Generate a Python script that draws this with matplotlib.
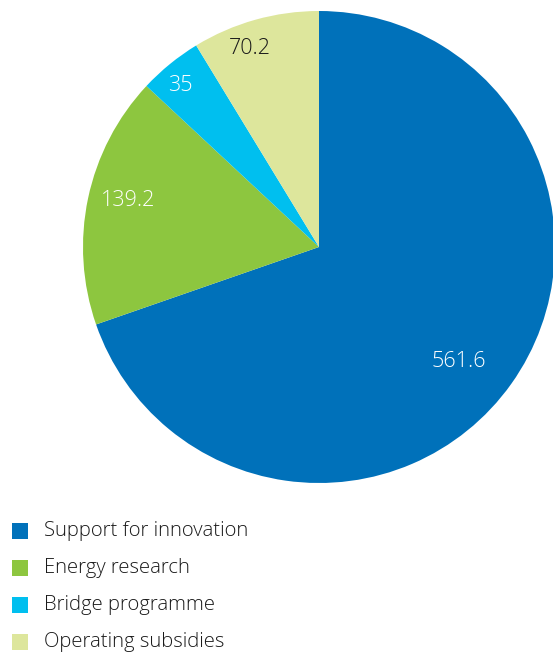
import numpy as np
import matplotlib
matplotlib.use("Agg")
import matplotlib.pyplot as plt
from matplotlib.patches import Rectangle

plt.rcParams["font.family"] = ["Open Sans", "DejaVu Sans"]

categories = ["Support for innovation", "Energy research", "Bridge programme", "Operating subsidies"]
values = [561.6, 139.2, 35, 70.2]
value_labels = ["561.6", "139.2", "35", "70.2"]
colors = ["#0071BA", "#8DC63F", "#00BFEF", "#DDE69C"]
label_colors = ["white", "white", "white", "#1a1a1a"]
label_radius = [0.765, 0.833, 0.90, 0.889]
label_shift_deg = [-3.8, -1.9, 1.4, 3.5]

W, H = 553, 655
fig = plt.figure(figsize=(W / 100, H / 100), dpi=100)

cx, cy, r = 319, 247, 236
ax = fig.add_axes([(cx - r) / W, 1 - (cy + r) / H, 2 * r / W, 2 * r / H])
wedges, _ = ax.pie(values, colors=colors, startangle=90, counterclock=False,
                   radius=1, wedgeprops=dict(linewidth=0))
ax.set_xlim(-1, 1)
ax.set_ylim(-1, 1)
ax.set_aspect("equal")
ax.axis("off")

for w, txt, col, rd, sh in zip(wedges, value_labels, label_colors, label_radius, label_shift_deg):
    mid = np.deg2rad((w.theta1 + w.theta2) / 2 + sh)
    ax.text(rd * np.cos(mid), rd * np.sin(mid), txt, color=col, fontsize=15.5,
            fontweight="light", ha="center", va="center")

# legend rows
row_y = [531, 568, 605, 642]
for name, col, y in zip(categories, colors, row_y):
    fig.patches.append(Rectangle((12 / W, 1 - (y + 8) / H), 16 / W, 16 / H,
                                 transform=fig.transFigure, facecolor=col,
                                 edgecolor="none"))
    fig.text(44 / W, 1 - y / H, name, fontsize=14.6, color="#1a1a1a",
             fontweight="light", ha="left", va="center")

fig.savefig("out.png", dpi=100)
